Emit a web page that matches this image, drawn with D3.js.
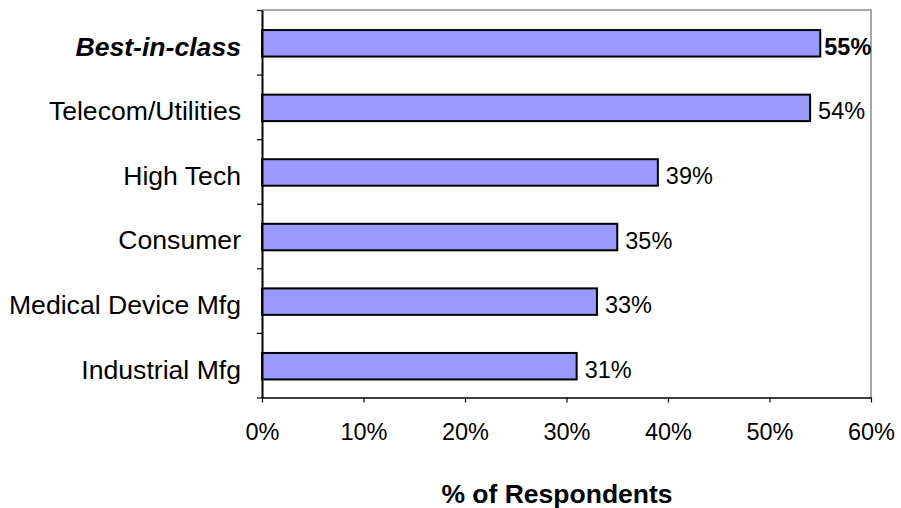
<!DOCTYPE html>
<html>
<head>
<meta charset="utf-8">
<script src="https://cdn.jsdelivr.net/npm/d3@7"></script>
<style>
  body { margin: 0; background: #fff; }
  svg { display: block; font-family: "Liberation Sans", Arial, sans-serif; }
</style>
</head>
<body>
<svg id="chart" width="901" height="508"></svg>
<script>
// Chart data
const categories = ['Best-in-class', 'Telecom/Utilities', 'High Tech', 'Consumer', 'Medical Device Mfg', 'Industrial Mfg'];
const values = [0.55, 0.54, 0.39, 0.35, 0.33, 0.31];
const highlighted = [true, false, false, false, false, false];
const xTicks = [0, 0.1, 0.2, 0.3, 0.4, 0.5, 0.6];
const xTitle = '% of Respondents';

const width = 901;
const height = 508;
const plot = { left: 262, right: 871, top: 10, bottom: 397.5 };

const svg = d3.select('#chart');

const x = d3.scaleLinear()
  .domain([0, 0.6])
  .range([plot.left, plot.right]);

const y = d3.scaleBand()
  .domain(categories)
  .range([plot.top, plot.bottom])
  .padding(0);

// tick marks sit on the band boundaries
const yEdges = d3.scaleLinear()
  .domain([0, categories.length])
  .range([plot.top, plot.bottom]);

const barH = y.bandwidth() * 0.41;

// Plot frame (top and right in grey)
svg.append('path')
  .attr('d', `M${plot.left},${plot.top}H${plot.right}V${plot.bottom}`)
  .attr('fill', 'none')
  .attr('stroke', '#8c8c8c')
  .attr('stroke-width', 1.5);

// Bars
svg.append('g')
  .selectAll('rect')
  .data(values)
  .enter()
  .append('rect')
  .attr('x', x(0))
  .attr('y', (d, i) => y(categories[i]) + y.bandwidth() / 2 - barH / 2 + 1)
  .attr('width', d => x(d) - x(0))
  .attr('height', barH)
  .attr('fill', '#9999ff')
  .attr('stroke', '#000')
  .attr('stroke-width', 2);

// Value labels
svg.append('g')
  .selectAll('text')
  .data(values)
  .enter()
  .append('text')
  .attr('x', (d, i) => x(d) + (highlighted[i] ? 4 : 8))
  .attr('y', (d, i) => y(categories[i]) + y.bandwidth() / 2 + 12.5)
  .attr('font-size', 23.5)
  .attr('font-weight', (d, i) => highlighted[i] ? 'bold' : 'normal')
  .attr('fill', '#000')
  .text(d => d3.format('.0%')(d));

// Y axis
const yAxis = svg.append('g')
  .attr('transform', `translate(${plot.left},0)`)
  .call(d3.axisLeft(yEdges)
    .tickValues(d3.range(categories.length + 1))
    .tickFormat('')
    .tickSize(5)
    .tickSizeOuter(0));
yAxis.select('.domain').attr('stroke', '#000').attr('stroke-width', 2);
yAxis.selectAll('.tick line').attr('stroke', '#000').attr('stroke-width', 1.2);

// Category labels
svg.append('g')
  .selectAll('text')
  .data(categories)
  .enter()
  .append('text')
  .attr('x', 241)
  .attr('y', d => y(d) + y.bandwidth() / 2 + 13.3)
  .attr('text-anchor', 'end')
  .attr('font-size', 26.6)
  .attr('font-weight', (d, i) => highlighted[i] ? 'bold' : 'normal')
  .attr('font-style', (d, i) => highlighted[i] ? 'italic' : 'normal')
  .attr('fill', '#000')
  .text(d => d);

// X axis
const xAxis = svg.append('g')
  .attr('transform', `translate(0,${plot.bottom})`)
  .call(d3.axisBottom(x)
    .tickValues(xTicks)
    .tickFormat(d3.format('.0%'))
    .tickSize(5)
    .tickSizeOuter(0)
    .tickPadding(21));
xAxis.select('.domain').attr('stroke', '#000').attr('stroke-width', 1.5);
xAxis.selectAll('.tick line').attr('stroke', '#000').attr('stroke-width', 1.2);
xAxis.selectAll('.tick text')
  .attr('font-size', 23.5)
  .attr('font-family', '"Liberation Sans", Arial, sans-serif')
  .attr('fill', '#000');

// X axis title
svg.append('text')
  .attr('x', 557)
  .attr('y', 502.5)
  .attr('text-anchor', 'middle')
  .attr('font-size', 26.5)
  .attr('font-weight', 'bold')
  .attr('fill', '#000')
  .text(xTitle);
</script>
</body>
</html>
